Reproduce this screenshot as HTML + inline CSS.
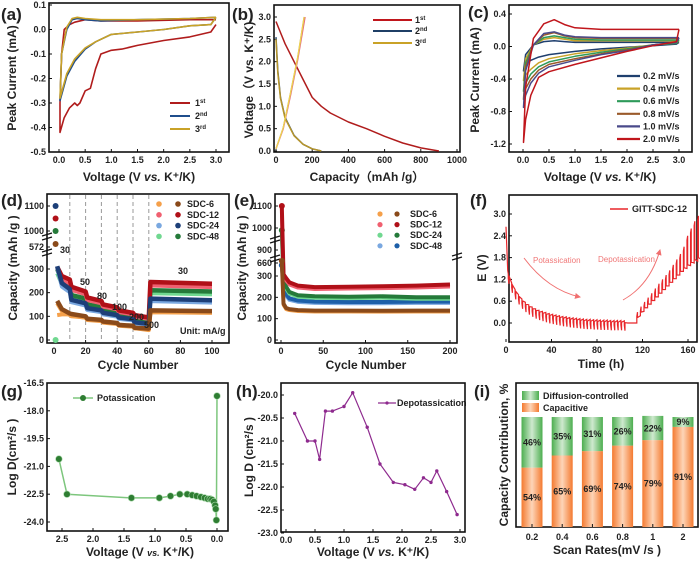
<!DOCTYPE html>
<html><head><meta charset="utf-8"><style>
body{margin:0;background:#fff}
svg{display:block}
text{font-family:"Liberation Sans",sans-serif;font-weight:bold;fill:#222}
.tk{font-size:9px}
.tt{font-size:12px}
.pl{font-size:17px}
.lg{font-size:9px}
</style></head><body>
<svg id="fig" width="700" height="568" viewBox="0 0 700 568" xmlns="http://www.w3.org/2000/svg">
<defs>
<linearGradient id="gOr" x1="0" x2="1"><stop offset="0" stop-color="#f47a30"/><stop offset="0.5" stop-color="#fdd5b8"/><stop offset="1" stop-color="#f47a30"/></linearGradient>
<linearGradient id="gGr" x1="0" x2="1"><stop offset="0" stop-color="#4cae4f"/><stop offset="0.5" stop-color="#cfe9cf"/><stop offset="1" stop-color="#4cae4f"/></linearGradient>
<marker id="arr" markerWidth="6" markerHeight="6" refX="5" refY="3" orient="auto"><path d="M0,0 L6,3 L0,6 z" fill="#f07070"/></marker>
</defs>
<text class="pl" x="1" y="20">(a)</text>
<text class="pl" x="232" y="20">(b)</text>
<text class="pl" x="468" y="18">(c)</text>
<text class="pl" x="1" y="206">(d)</text>
<text class="pl" x="234" y="206">(e)</text>
<text class="pl" x="470" y="206">(f)</text>
<text class="pl" x="1" y="397">(g)</text>
<text class="pl" x="236" y="397">(h)</text>
<text class="pl" x="474" y="397">(i)</text>
<text class="tt" x="139" y="181" text-anchor="middle">Voltage (V <tspan font-style="italic">vs.</tspan> K⁺/K)</text>
<text class="tt" transform="translate(16,78) rotate(-90)" text-anchor="middle">Peak Current (mA)</text>
<text class="tt" x="367" y="181" text-anchor="middle">Capacity（mAh /g）</text>
<text class="tt" transform="translate(253,80) rotate(-90)" text-anchor="middle">Voltage（V vs. K⁺/K)</text>
<text class="tt" x="600" y="181" text-anchor="middle">Voltage (V <tspan font-style="italic">vs.</tspan> K⁺/K)</text>
<text class="tt" transform="translate(479,80) rotate(-90)" text-anchor="middle">Peak Current (mA)</text>
<text class="tt" x="138" y="369" text-anchor="middle">Cycle Number</text>
<text class="tt" transform="translate(17,268) rotate(-90)" text-anchor="middle">Capacity (mAh /g )</text>
<text class="tt" x="366" y="369" text-anchor="middle">Cycle Number</text>
<text class="tt" transform="translate(246,268) rotate(-90)" text-anchor="middle">Capacity (mAh /g )</text>
<text class="tt" x="601" y="368" text-anchor="middle">Time (h)</text>
<text class="tt" transform="translate(486,268) rotate(-90)" text-anchor="middle">E (V)</text>
<text class="tt" x="140" y="556" text-anchor="middle">Voltage (V <tspan font-style="italic" font-size="9">vs.</tspan> K⁺/K)</text>
<text class="tt" transform="translate(16,457) rotate(-90)" text-anchor="middle">Log D(cm²/s )</text>
<text class="tt" x="373" y="556" text-anchor="middle">Voltage (V <tspan font-style="italic">vs.</tspan> K⁺/K)</text>
<text class="tt" transform="translate(253,457) rotate(-90)" text-anchor="middle">Log D (cm²/s )</text>
<text class="tt" x="607" y="554" text-anchor="middle">Scan Rates(mV /s )</text>
<text class="tt" transform="translate(508,455) rotate(-90)" text-anchor="middle">Capacity Contribution, %</text>
<g>
<line x1="170" y1="103" x2="190" y2="103" stroke="#b01c1c" stroke-width="2"/><text class="lg" x="195" y="106">1<tspan font-size="6" dy="-3">st</tspan></text>
<line x1="170" y1="116" x2="190" y2="116" stroke="#1f4e8c" stroke-width="2"/><text class="lg" x="195" y="119">2<tspan font-size="6" dy="-3">nd</tspan></text>
<line x1="170" y1="129" x2="190" y2="129" stroke="#c9a227" stroke-width="2"/><text class="lg" x="195" y="132">3<tspan font-size="6" dy="-3">rd</tspan></text>
</g>
<g>
<line x1="373" y1="20" x2="412" y2="20" stroke="#c0161c" stroke-width="2"/><text class="lg" x="415" y="23">1<tspan font-size="6" dy="-3">st</tspan></text>
<line x1="373" y1="31" x2="412" y2="31" stroke="#1f3f66" stroke-width="2"/><text class="lg" x="415" y="34">2<tspan font-size="6" dy="-3">nd</tspan></text>
<line x1="373" y1="43" x2="412" y2="43" stroke="#c9a227" stroke-width="2"/><text class="lg" x="415" y="46">3<tspan font-size="6" dy="-3">rd</tspan></text>
</g>
<text class="lg" x="180" y="334">Unit: mA/g</text>
<text class="lg" x="632" y="212">GITT-SDC-12</text>
<line x1="610" y1="209" x2="628" y2="209" stroke="#e8262a" stroke-width="1.5"/>
<text x="533" y="263" font-size="8" style="fill:#f07878;font-weight:normal">Potassication</text>
<text x="598" y="262" font-size="8" style="fill:#f07878;font-weight:normal">Depotassication</text>
<path d="M524,258 Q548,290 580,297" fill="none" stroke="#f07070" stroke-width="1" marker-end="url(#arr)"/>
<path d="M623,300 Q650,285 660,250" fill="none" stroke="#f07070" stroke-width="1" marker-end="url(#arr)"/>
<g><line x1="73" y1="398" x2="93" y2="398" stroke="#7dc67d" stroke-width="1.5"/><circle cx="83" cy="398" r="3" fill="#2e7d32"/><text class="lg" x="97" y="401">Potassication</text></g>
<g><line x1="378" y1="403" x2="396" y2="403" stroke="#8e2a8e" stroke-width="1.2"/><circle cx="387" cy="403" r="1.6" fill="#8e2a8e"/><text class="lg" x="397" y="406">Depotassication</text></g>
<g>
<rect x="522" y="391" width="17" height="9" fill="url(#gGr)"/><text class="lg" x="543" y="399">Diffusion-controlled</text>
<rect x="522" y="403" width="17" height="9" fill="url(#gOr)"/><text class="lg" x="543" y="411">Capacitive</text>
</g>
<g id="plots"></g>
</svg>
<script>
const aV1=[3.0,2.9,2.5,2.0,1.5,1.2,1.0,0.8,0.7,0.6,0.5,0.4,0.35,0.3,0.2,0.1,0.02,0.02,0.05,0.1,0.2,0.3,0.5,0.8,1.5,2.5,3.0];
const aI1=[0.02,-0.01,-0.03,-0.045,-0.065,-0.08,-0.085,-0.1,-0.16,-0.24,-0.25,-0.3,-0.31,-0.3,-0.32,-0.36,-0.42,-0.3,-0.1,0.0,0.02,0.03,0.04,0.035,0.035,0.04,0.04];
const aV2=[3.0,2.9,2.5,2.0,1.5,1.0,0.7,0.5,0.3,0.15,0.02,0.02,0.05,0.15,0.25,0.35,0.5,0.8,1.5,2.5,3.0];
const aI2=[0.05,0.02,0.015,0.0,-0.01,-0.02,-0.05,-0.08,-0.13,-0.19,-0.29,-0.29,-0.1,0.0,0.04,0.045,0.04,0.035,0.04,0.045,0.05];
const aI3=[0.05,0.02,0.015,0.0,-0.01,-0.02,-0.05,-0.075,-0.12,-0.18,-0.28,-0.28,-0.1,0.01,0.045,0.05,0.045,0.04,0.04,0.045,0.05];
const bDisC1=[0,20,50,100,150,200,250,300,400,500,600,700,800,900];
const bDisV1=[2.9,2.7,2.4,2.0,1.6,1.2,1.0,0.85,0.65,0.5,0.33,0.18,0.07,0.0];
const bChC1=[0,40,80,120,160];
const bChV1=[0.05,0.5,1.25,2.05,3.0];
const bDisC2=[0,10,25,50,100,150,200,250];
const bDisV2=[2.55,1.8,1.2,0.75,0.35,0.15,0.05,0.0];
const bDisV3=[2.5,1.75,1.18,0.73,0.34,0.15,0.05,0.0];
const bChC2=[0,40,80,120,155];
const bChV2=[0.05,0.52,1.3,2.1,3.0];
const cV=[3.0,2.95,2.5,2.0,1.5,1.0,0.5,0.3,0.15,0.05,0.01,0.01,0.05,0.2,0.4,0.6,0.8,1.0,1.5,2.0,2.5,3.0];
const cRates=["0.2 mV/s","0.4 mV/s","0.6 mV/s","0.8 mV/s","1.0 mV/s","2.0 mV/s"];
const cI02=[0.05,0.03,0.01,-0.01,-0.03,-0.06,-0.1,-0.13,-0.17,-0.22,-0.3,-0.3,-0.1,0.02,0.06,0.07,0.06,0.05,0.05,0.05,0.05,0.05];
const cI04=[0.07,0.04,0.02,-0.02,-0.05,-0.09,-0.15,-0.2,-0.28,-0.35,-0.42,-0.42,-0.15,0.02,0.09,0.11,0.09,0.07,0.07,0.07,0.07,0.07];
const cI06=[0.08,0.04,0.02,-0.03,-0.07,-0.12,-0.19,-0.25,-0.34,-0.45,-0.55,-0.55,-0.2,0.02,0.11,0.13,0.11,0.09,0.08,0.08,0.08,0.08];
const cI08=[0.1,0.05,0.02,-0.04,-0.09,-0.15,-0.22,-0.29,-0.4,-0.52,-0.65,-0.65,-0.25,0.02,0.14,0.17,0.13,0.11,0.1,0.1,0.1,0.1];
const cI10=[0.11,0.05,0.02,-0.05,-0.1,-0.17,-0.25,-0.33,-0.45,-0.6,-0.75,-0.75,-0.3,0.02,0.16,0.18,0.14,0.12,0.11,0.11,0.11,0.11];
const cI20=[0.21,0.06,0.01,-0.06,-0.14,-0.22,-0.31,-0.38,-0.6,-0.9,-1.18,-1.18,-0.5,0.1,0.28,0.33,0.27,0.23,0.21,0.21,0.21,0.21];
const dCyc=[2,5,10,11,20,21,30,31,40,41,50,51,60,61,100];
const dSDC6=[165,130,112,110,100,90,85,78,72,64,60,52,48,125,122];
const dSDC12=[330,270,255,225,205,180,165,150,138,125,115,105,95,245,238];
const dSDC24=[340,240,215,170,155,135,125,115,105,95,88,75,68,175,168];
const dSDC48=[300,250,235,190,175,150,140,130,118,105,98,85,78,210,205];
const dSDC6c=[105,108,108,100,95,88,82,75,70,62,58,50,42,118,120];
const dFirst=[572,1050,1100,1000];
const eCyc=[1,3,6,10,20,40,80,120,160,200];
const eSDC6=[700,170,150,145,140,138,138,137,138,138];
const eSDC12=[1100,350,290,270,255,248,250,252,255,260];
const eSDC24=[990,300,250,225,210,205,203,205,200,200];
const eSDC48=[600,260,215,195,185,180,178,178,180,180];
const fDisLevel=[1.35,1.1,0.92,0.78,0.66,0.57,0.5,0.44,0.39,0.35,0.32,0.29,0.26,0.24,0.22,0.2,0.18,0.17,0.15,0.14,0.13,0.12,0.11,0.1,0.1,0.09,0.09,0.08,0.08,0.08,0.07,0.07,0.07,0.07,0.06];
const fChLevel=[0.05,0.2,0.32,0.42,0.52,0.62,0.72,0.82,0.92,1.02,1.12,1.22,1.32,1.42,1.5,1.58,1.65,1.7,1.75,1.78];
const fChPeak=[0.3,0.45,0.58,0.7,0.82,0.95,1.08,1.2,1.32,1.45,1.6,1.75,1.9,2.1,2.4,2.6,2.8,2.95,3.05,3.1];
const gV=[2.55,2.42,1.38,0.93,0.75,0.6,0.48,0.4,0.33,0.26,0.2,0.15,0.11,0.08,0.05,0.03,0.02,0.01,0.0];
const gD=[-20.6,-22.5,-22.7,-22.7,-22.6,-22.5,-22.5,-22.55,-22.6,-22.65,-22.7,-22.75,-22.75,-22.8,-22.9,-23.1,-23.3,-23.9,-17.2];
const hV=[0.15,0.37,0.5,0.58,0.68,0.8,1.0,1.15,1.4,1.62,1.85,2.05,2.22,2.37,2.5,2.6,2.77,2.95];
const hD=[-20.4,-21.0,-21.0,-21.4,-20.35,-20.35,-20.25,-19.95,-20.7,-21.5,-21.9,-21.95,-22.05,-21.8,-21.9,-21.65,-22.1,-22.6];
const iRates=["0.2","0.4","0.6","0.8","1","2"];
const iCap=[54,65,69,74,79,91];
const iDiff=[46,35,31,26,22,9];
const aXT=[0,0.5,1,1.5,2,2.5,3], aYT=[0.1,0,-0.1,-0.2,-0.3,-0.4,-0.5];
const bXT=[0,200,400,600,800,1000], bYT=[0,0.5,1,1.5,2,2.5,3];
const cXT=[0,0.5,1,1.5,2,2.5,3], cYT=[0.4,0,-0.4,-0.8,-1.2];
const dXT=[0,20,40,60,80,100], dYT=[0,100,200,300,572,1000,1100];
const eXT=[0,50,100,150,200], eYT=[0,100,200,300,660,900,1000,1100];
const fXT=[0,40,80,120,160], fYT=[0,0.6,1.2,1.8,2.4,3.0];
const gXT=[2.5,2.0,1.5,1.0,0.5,0.0], gYT=[-16.5,-18,-19.5,-21,-22.5,-24];
const hXT=[0,0.5,1,1.5,2,2.5,3], hYT=[-20,-20.5,-21,-21.5,-22,-22.5,-23];
const NS="http://www.w3.org/2000/svg";
const root=document.getElementById('plots');
function mk(tag,attrs){const e=document.createElementNS(NS,tag);for(const k in attrs)e.setAttribute(k,attrs[k]);root.appendChild(e);return e;}
function lin(d0,d1,p0,p1){return v=>p0+(v-d0)*(p1-p0)/(d1-d0);}
function pw(ds,ps){return v=>{for(let i=0;i<ds.length-1;i++){if(v<=ds[i+1]||i==ds.length-2){return ps[i]+(v-ds[i])*(ps[i+1]-ps[i])/(ds[i+1]-ds[i]);}}};}
function frame(n,x0,y0,x1,y1){const r=mk('rect',{x:x0,y:y0,width:x1-x0,height:y1-y0,fill:'none',stroke:'#111','stroke-width':1.6});

}
function xticks(n,vals,sx,yb,fmt){vals.forEach(v=>{const x=sx(v);const l=mk('line',{x1:x,x2:x,y1:yb,y2:yb-3,stroke:'#111','stroke-width':1});


const t=mk('text',{x:x,y:yb+11,'text-anchor':'middle',class:'tk'});t.textContent=fmt(v);

});}
function yticks(n,vals,sy,xl,fmt){vals.forEach(v=>{const y=sy(v);const l=mk('line',{x1:xl,x2:xl+3,y1:y,y2:y,stroke:'#111','stroke-width':1});


const t=mk('text',{x:xl-3,y:y+3,'text-anchor':'end',class:'tk'});t.textContent=fmt(v);

});}
function line(n,xs,ys,sx,sy,col,w){const p=xs.map((x,i)=>sx(x).toFixed(1)+','+sy(ys[i]).toFixed(1)).join(' ');const e=mk('polyline',{points:p,fill:'none',stroke:col,'stroke-width':w,'stroke-linejoin':'round'});

return e;}
const f1=v=>v.toFixed(1), f0=v=>String(v);
{const sx=lin(0,3,59,216), sy=lin(0.1,-0.5,5,152);
frame('a',49,3,229,152);xticks('a',aXT,sx,152,f1);yticks('a',aYT,sy,49,f1);
line('a-cycle-1',aV1,aI1,sx,sy,'#b01c1c',1.6);line('a-cycle-2',aV2,aI2,sx,sy,'#1f4e8c',1.6);line('a-cycle-3',aV2,aI3,sx,sy,'#c9a227',1.6);}
{const sx=lin(0,1000,276,457), sy=lin(0,3,151,17);
frame('b',274,5,460,152);xticks('b',bXT,sx,152,f0);yticks('b',bYT,sy,274,f1);
line('b-discharge-1',bDisC1,bDisV1,sx,sy,'#b01c1c',1.5);line('b-charge-1',bChC1,bChV1,sx,sy,'#e86a7a',1.5);
line('b-discharge-2',bDisC2,bDisV2,sx,sy,'#3b5a7a',1.5);line('b-charge-2',bChC2,bChV2,sx,sy,'#7aa0d0',1.2);
line('b-discharge-3',bDisC2,bDisV3,sx,sy,'#b8962a',1.5);line('b-charge-3',bChC2,bChV2,sx,sy,'#f2d24a',1.3);}
{const sx=lin(0,3,523,679), sy=lin(0.4,-1.2,14,144);
frame('c',509,5,692,152);xticks('c',cXT,sx,152,f1);yticks('c',cYT,sy,509,f1);
const cols=['#1f3f6e','#c9a227','#2e9a5a','#9a5a2a','#4a4a8a','#c0161c'];const ser=[cI02,cI04,cI06,cI08,cI10,cI20];
ser.forEach((s,i)=>{line('c-cv-'+cRates[i].split(' ')[0],cV,s,sx,sy,cols[i],1.5);
const l=mk('line',{x1:617,x2:640,y1:76+i*12.6,y2:76+i*12.6,stroke:cols[i],'stroke-width':2.2});


const t=mk('text',{x:643,y:79+i*12.6,class:'lg'});t.textContent=cRates[i];

});}
{const sx=lin(0,100,54,212), sy=pw([0,300,572,1000,1100],[340,269,250,231,206]);
frame('d',47,194,229,343);
[10,20,30,40,50,60].forEach(c=>{const l=mk('line',{x1:sx(c),x2:sx(c),y1:195,y2:342,stroke:'#999','stroke-dasharray':'4,3','stroke-width':1});

});
xticks('d',dXT,sx,343,f0);yticks('d',dYT,v=>v==572?247:sy(v),47,f0);
const br=mk('path',{d:'M42,236 l10,-3 M42,240 l10,-3 M42,252 l10,-3 M42,256 l10,-3',stroke:'#111','stroke-width':1.2});


const dark=['#8a4a1a','#b01018','#1d3f78','#257a3a'], light=['#f5a04a','#f06070','#7aa8e0','#70d890'];
const ser=[dSDC6,dSDC12,dSDC24,dSDC48];const nm=['sdc6','sdc12','sdc24','sdc48'];
line('d-sdc6-charge',dCyc,dSDC6c,sx,sy,light[0],4);
[3,1,2,0].forEach(i=>{line('d-series-'+nm[i]+'-light',dCyc,ser[i].map(v=>v*0.94),sx,sy,light[i],4);line('d-series-'+nm[i],dCyc,ser[i],sx,sy,dark[i],4.5);});
const fc=['#8a4a1a','#b01018','#1d3f78','#257a3a'];
dFirst.forEach((v,i)=>{const c=mk('circle',{cx:sx(1),cy:v==572?244:sy(v),r:3,fill:fc[i]});

});
const z=mk('circle',{cx:sx(1),cy:sy(0),r:3,fill:'#70d890'});


const rl=[['30',60,253],['50',80,285],['80',97,299],['100',112,310],['200',129,320],['500',144,328],['30',178,274]];
rl.forEach(r=>{const t=mk('text',{x:r[1],y:r[2],class:'lg'});t.textContent=r[0];

});
const names=['SDC-6','SDC-12','SDC-24','SDC-48'];
names.forEach((n,i)=>{const a=mk('circle',{cx:159,cy:204+i*10.8,r:2.8,fill:light[i]});


const b=mk('circle',{cx:178,cy:204+i*10.8,r:2.8,fill:dark[i]});


const t=mk('text',{x:187,y:207+i*10.8,class:'lg'});t.textContent=n;

});}
{const sx=lin(0,200,281,450), sy=pw([0,300,660,900,1000,1100],[340,276,263,250,228,206]);
frame('e',275,194,457,343);xticks('e',eXT,sx,343,f0);yticks('e',eYT,sy,275,f0);
const br=mk('path',{d:'M270,239 l10,-3 M270,243 l10,-3 M270,258 l10,-3 M270,262 l10,-3 M452,256 l10,-3 M452,260 l10,-3',stroke:'#111','stroke-width':1.2});


const dark=['#8a4a1a','#b01018','#257a3a','#1d5fa8'], light=['#f5a04a','#f06070','#70d890','#7aa8e0'];
const ser=[eSDC6,eSDC12,eSDC24,eSDC48];const nm=['sdc6','sdc12','sdc24','sdc48'];
[3,2,1,0].forEach(i=>{line('e-series-'+nm[i]+'-light',eCyc,ser[i].map(v=>v*0.96),sx,sy,light[i],3.5);line('e-series-'+nm[i],eCyc,ser[i],sx,sy,dark[i],4);
const c=mk('circle',{cx:sx(eCyc[0]),cy:sy(ser[i][0]),r:3,fill:dark[i]});

});
const names=['SDC-6','SDC-12','SDC-24','SDC-48'];
names.forEach((n,i)=>{const a=mk('circle',{cx:380,cy:214+i*10.6,r:2.6,fill:light[i]});


const b=mk('circle',{cx:397,cy:214+i*10.6,r:2.6,fill:dark[i]});


const t=mk('text',{x:410,y:217+i*10.6,class:'lg'});t.textContent=n;

});}
{const sx=lin(0,160,506,688), sy=lin(0,3,323,214);
frame('f',509,195,697,342);xticks('f',fXT,sx,342,f0);yticks('f',fYT,sy,509,f1);
let d='M'+sx(0)+','+sy(2.65)+' L'+sx(1.5)+','+sy(1.45);let t=2;
fDisLevel.forEach((L,i)=>{d+=' L'+sx(t)+','+sy(L)+' L'+sx(t)+','+sy(L-0.12)+' L'+sx(t+0.6)+','+sy(L-0.27)+' L'+sx(t+0.6)+','+sy(L-0.05);t+=3;});
d+=' L'+sx(t)+','+sy(0.0)+' L'+sx(115)+','+sy(0.0);t=115;
fChLevel.forEach((L,i)=>{d+=' L'+sx(t)+','+sy(L)+' L'+sx(t)+','+sy(fChPeak[i]-0.12)+' L'+sx(t+0.6)+','+sy(fChPeak[i])+' L'+sx(t+0.6)+','+sy(L+0.1);t+=3.15;});
const p=mk('path',{d:d,fill:'none',stroke:'#e8262a','stroke-width':1.2});

}
{const sx=lin(2.5,0,62,217), sy=lin(-16.5,-24,383,522);
frame('g',47,383,228,531);xticks('g',gXT,sx,531,f1);yticks('g',gYT,sy,47,f1);
line('g-potassication-line',gV,gD,sx,sy,'#7dc67d',1.5);
gV.forEach((v,i)=>{const c=mk('circle',{cx:sx(v),cy:sy(gD[i]),r:3.3,fill:'#2e7d32',stroke:'#a5d6a7','stroke-width':0.6});

});}
{const sx=lin(0,3,286,460), sy=lin(-20,-23,395,533);
frame('h',281,383,465,532);xticks('h',hXT,sx,532,f1);yticks('h',hYT,sy,281,f1);
line('h-depotassication-line',hV,hD,sx,sy,'#8e2a8e',1.2);
hV.forEach((v,i)=>{const c=mk('circle',{cx:sx(v),cy:sy(hD[i]),r:1.7,fill:'#8e2a8e'});

});}
{const sy=lin(0,100,527,417), bx=i=>532+i*30.2;
frame('i',516,383,698,527);
iRates.forEach((r,i)=>{const x=bx(i)-10.5;
const a=mk('rect',{x:x,y:sy(iCap[i]),width:21,height:sy(0)-sy(iCap[i]),fill:'url(#gOr)'});


const b=mk('rect',{x:x,y:sy(iCap[i]+iDiff[i]),width:21,height:sy(iCap[i])-sy(iCap[i]+iDiff[i]),fill:'url(#gGr)'});


const t1=mk('text',{x:bx(i),y:(sy(0)+sy(iCap[i]))/2+3,'text-anchor':'middle',class:'lg'});t1.textContent=iCap[i]+'%';


const t2=mk('text',{x:bx(i),y:(sy(iCap[i])+sy(100))/2+3,'text-anchor':'middle',class:'lg'});t2.textContent=iDiff[i]+'%';


const l=mk('line',{x1:bx(i),x2:bx(i),y1:527,y2:524,stroke:'#111'});


const t=mk('text',{x:bx(i),y:540,'text-anchor':'middle',class:'tk'});t.textContent=r;

});}
</script>
</body></html>
